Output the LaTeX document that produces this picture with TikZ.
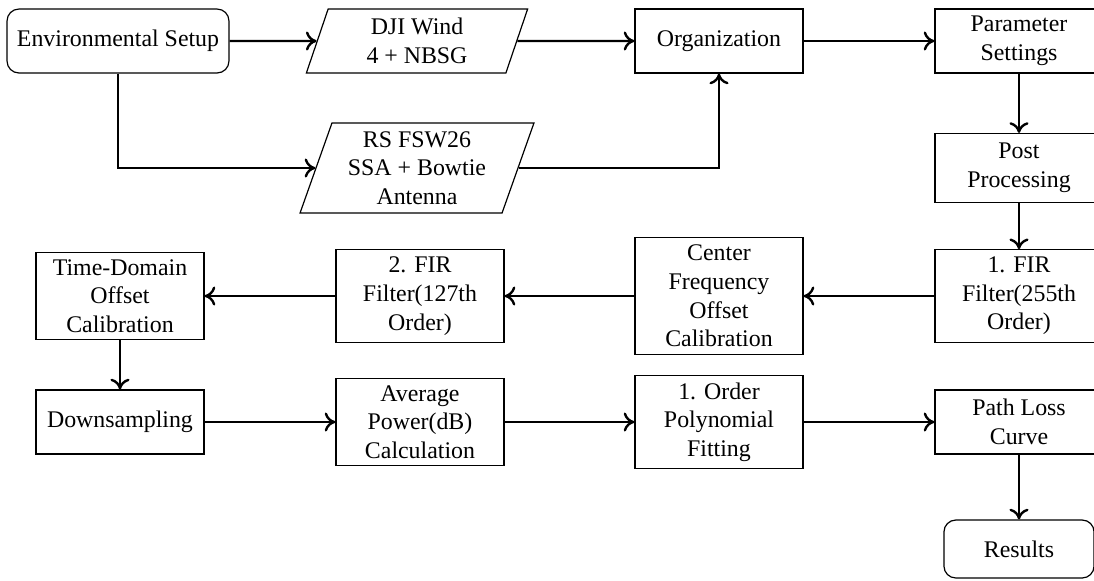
\documentclass[tikz,border=0pt]{standalone}
\usepackage{fontspec}
\setmainfont{Liberation Serif}
\usetikzlibrary{shapes.geometric,arrows.meta}
\begin{document}
\begin{tikzpicture}[x=0.419pt,y=-0.419pt,
  font=\fontsize{10}{12}\selectfont,
  every node/.style={align=center,inner xsep=2pt,inner ysep=3pt},
  procbox/.style={draw,line width=0.5pt,rectangle,minimum width=70.4pt,minimum height=26.8pt},
  termbox/.style={draw,line width=0.5pt,rectangle,rounded corners=5pt,minimum height=26.8pt},
  iobox/.style={draw,line width=0.5pt,trapezium,trapezium left angle=70,trapezium right angle=110,trapezium stretches body,inner xsep=0pt},
  flow/.style={line width=1pt,-{To[length=4.5pt,width=8pt]}}]
\useasboundingbox (0,0) rectangle (1094,580);
% row 1
\node[termbox,minimum width=93pt] (env) at (118,41) {Environmental Setup};
\node[iobox,minimum width=92.7pt,minimum height=26.8pt] (dji) at (417,41) {DJI Wind\\4 + NBSG};
\node[procbox] (org) at (719,41) {Organization};
\node[procbox] (par) at (1019,41) {Parameter\\Settings};
% row 2
\node[iobox,minimum width=98pt,minimum height=37.7pt] (rs) at (417,168) {RS FSW26\\SSA + Bowtie\\Antenna};
\node[procbox,minimum height=28.9pt] (post) at (1019,168) {Post\\Processing};
% row 3
\node[procbox] (fir1) at (1019,296) {1. FIR\\Filter(255th\\Order)};
\node[procbox] (cfo) at (719,296) {Center\\Frequency\\Offset\\Calibration};
\node[procbox] (fir2) at (420,296) {2. FIR\\Filter(127th\\Order)};
\node[procbox] (td) at (120,296) {Time-Domain\\Offset\\Calibration};
% row 4
\node[procbox] (down) at (120,422) {Downsampling};
\node[procbox] (avg) at (420,422) {Average\\Power(dB)\\Calculation};
\node[procbox] (poly) at (719,422) {1. Order\\Polynomial\\Fitting};
\node[procbox] (pl) at (1019,422) {Path Loss\\Curve};
% row 5
\node[termbox,minimum width=62.9pt,minimum height=24.3pt] (res) at (1019,549) {Results};
% connectors
\draw[flow] (env) -- (dji);
\draw[flow] (dji) -- (org);
\draw[flow] (org) -- (par);
\draw[flow] (par) -- (post);
\draw[flow] (post) -- (fir1);
\draw[flow] (fir1) -- (cfo);
\draw[flow] (cfo) -- (fir2);
\draw[flow] (fir2) -- (td);
\draw[flow] (td) -- (down);
\draw[flow] (down) -- (avg);
\draw[flow] (avg) -- (poly);
\draw[flow] (poly) -- (pl);
\draw[flow] (pl) -- (res);
\draw[flow] (env.south) |- (rs.west);
\draw[flow] (rs.east) -| (org.south);
\end{tikzpicture}
\end{document}
